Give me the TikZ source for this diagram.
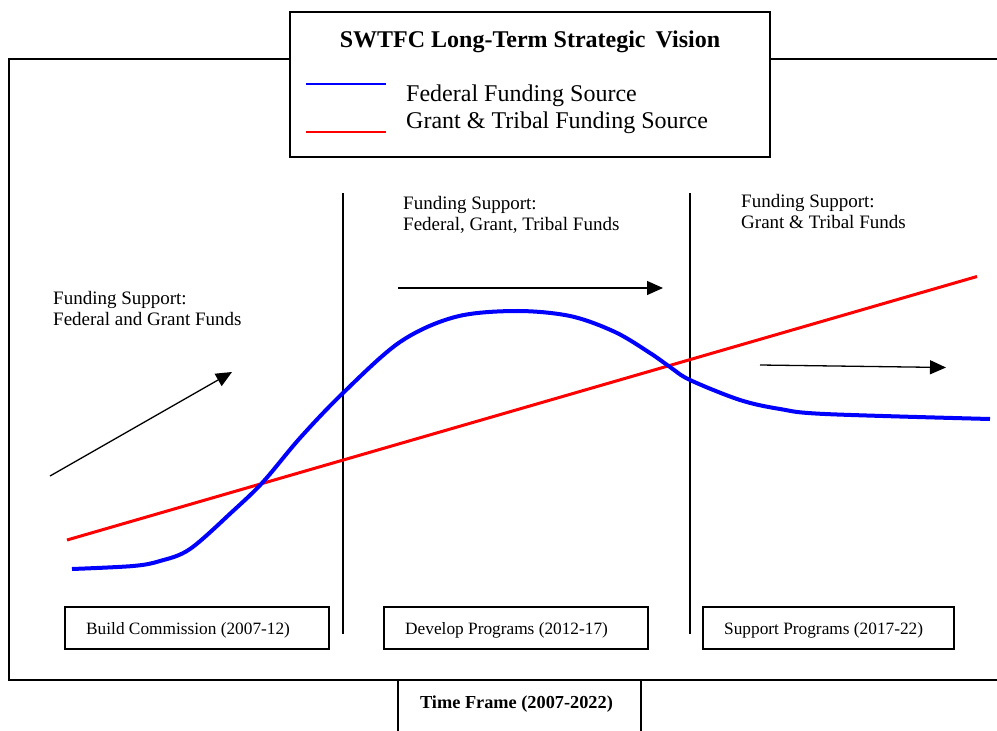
\documentclass[tikz,border=0pt]{standalone}
\usepackage{fontspec}
\setmainfont{Liberation Serif}
\usetikzlibrary{arrows.meta}
\begin{document}
\begin{tikzpicture}[x=1pt,y=-1pt,
  frameline/.style={black,line width=1.6pt},
  phasebox/.style={draw=black,line width=1.6pt,fill=white,minimum width=264pt,minimum height=42pt,inner sep=0pt},
  phaselabel/.style={anchor=base west,inner sep=0pt,font=\fontsize{17.3}{20}\selectfont},
  supportlabel/.style={anchor=north west,inner sep=0pt,align=left,font=\fontsize{19}{21}\selectfont},
  legendlabel/.style={anchor=base west,inner sep=0pt,font=\fontsize{24}{27}\selectfont},
  trend/.style={black,line width=1.3pt,-{Triangle[length=16pt,width=14pt]}},
  federal/.style={blue,line width=4pt},
  tribal/.style={red,line width=3pt}]
\clip (0,0) rectangle (997,731);
\fill[white] (0,0) rectangle (997,731);

% outer frame and time-frame tab
\draw[frameline] (1010,59) -- (9,59) -- (9,680) -- (1010,680);
\draw[frameline] (398,680) -- (398,740) (641,680) -- (641,740);
\node[anchor=base,inner sep=0pt,font=\bfseries\fontsize{18.3}{20}\selectfont] (timeframe) at (516.5,708) {Time Frame (2007-2022)};

% legend
\node[draw=black,line width=1.6pt,fill=white,minimum width=480pt,minimum height=145pt,inner sep=0pt] (legend) at (530,84.5) {};
\node[anchor=base,inner sep=0pt,font=\bfseries\fontsize{24}{26}\selectfont] (title) at (530,47) {SWTFC Long-Term Strategic\ \,Vision};
\coordinate (fedA) at (306,84);
\coordinate (fedB) at (386,84);
\coordinate (triA) at (306,132);
\coordinate (triB) at (386,132);
\draw[blue,line width=2.6pt] (fedA) -- (fedB);
\draw[red,line width=2.6pt] (triA) -- (triB);
\node[legendlabel] (fedtext) at (406,101) {Federal Funding Source};
\node[legendlabel] (tritext) at (406,128) {Grant \& Tribal Funding Source};

% phase dividers
\coordinate (d1top) at (343,193);
\coordinate (d1bot) at (343,634);
\coordinate (d2top) at (690,193);
\coordinate (d2bot) at (690,634);
\draw[frameline] (d1top) -- (d1bot);
\draw[frameline] (d2top) -- (d2bot);

% funding curves
\coordinate (redA) at (67,540);
\coordinate (redB) at (977,276.5);
\draw[tribal] (redA) -- (redB);
\draw[federal,line cap=butt] plot[smooth,tension=0.55] coordinates {
  (72,569) (133,566) (160,561) (190,549) (233,511) (263,482) (300,438)
  (343,393) (400,342) (455,317) (515,311) (570,316) (615,332) (650,353)
  (670,367) (690,380) (740,400) (780,409) (825,414) (990,419)};

% trend arrows
\coordinate (a1s) at (50,476);
\coordinate (a1e) at (232,372);
\coordinate (a2s) at (398,288);
\coordinate (a2e) at (663,288);
\coordinate (a3s) at (760,365);
\coordinate (a3e) at (946,367.5);
\draw[trend] (a1s) -- (a1e);
\draw[trend] (a2s) -- (a2e);
\draw[trend] (a3s) -- (a3e);

% funding support notes
\node[supportlabel] (s1) at (53,291) {Funding Support:\\Federal and Grant Funds};
\node[supportlabel] (s2) at (403,196) {Funding Support:\\Federal, Grant, Tribal Funds};
\node[supportlabel] (s3) at (741,194.5) {Funding Support:\\Grant \& Tribal Funds};

% phase boxes
\node[phasebox] (p1) at (197,628) {};
\node[phasebox] (p2) at (516,628) {};
\node[phasebox,minimum width=251pt] (p3) at (828.5,628) {};
\node[phaselabel] (p1t) at (86,634.5) {Build Commission (2007-12)};
\node[phaselabel] (p2t) at (405,634.5) {Develop Programs (2012-17)};
\node[phaselabel] (p3t) at (724,634.5) {Support Programs (2017-22)};
\end{tikzpicture}
\end{document}
